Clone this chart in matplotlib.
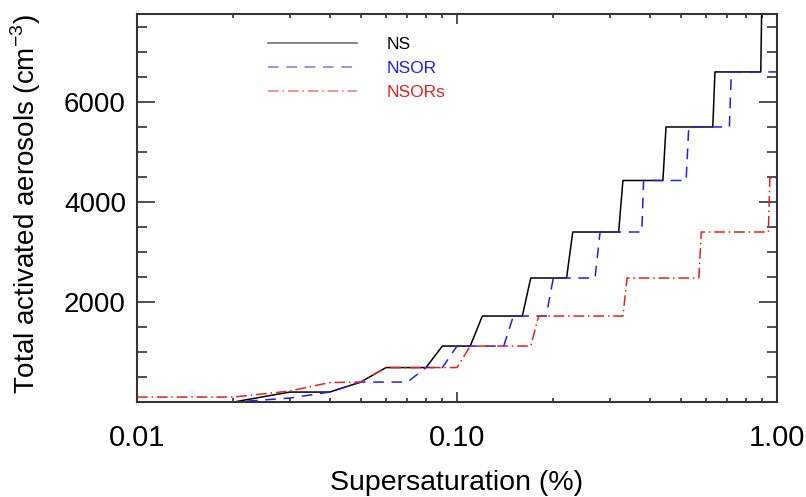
import matplotlib
matplotlib.use('Agg')
import matplotlib.pyplot as plt
from matplotlib.ticker import FixedLocator, NullFormatter, MultipleLocator

plt.rcParams['font.family'] = ['Liberation Sans', 'DejaVu Sans']
plt.rcParams['mathtext.fontset'] = 'custom'
plt.rcParams['mathtext.rm'] = 'Liberation Sans'

# supersaturation (%) at the corners of each curve
ns_x = [0.01, 0.02, 0.03, 0.04, 0.05, 0.06, 0.08, 0.09, 0.11, 0.12, 0.16, 0.17,
        0.22, 0.23, 0.32, 0.33, 0.44, 0.45, 0.63, 0.64, 0.89, 0.90, 1.00]
ns_y = [0, 0, 200, 200, 400, 690, 690, 1120, 1120, 1720, 1720, 2480,
        2480, 3400, 3400, 4430, 4430, 5500, 5500, 6600, 6600, 8800, 8800]

nsor_x = [0.01, 0.02, 0.03, 0.04, 0.05, 0.07, 0.08, 0.09, 0.10, 0.14, 0.15, 0.19,
          0.20, 0.27, 0.28, 0.378, 0.383, 0.52, 0.53, 0.71, 0.72, 1.00]
nsor_y = [0, 0, 80, 200, 400, 400, 690, 690, 1120, 1120, 1720, 1720,
          2480, 2480, 3400, 3400, 4430, 4430, 5500, 5500, 6600, 6600]

nsors_x = [0.01, 0.02, 0.03, 0.04, 0.05, 0.06, 0.10, 0.11, 0.17, 0.18, 0.33, 0.34,
           0.57, 0.58, 0.94, 0.95, 1.00]
nsors_y = [100, 100, 220, 390, 400, 690, 690, 1120, 1120, 1720, 1720, 2480,
           2480, 3400, 3400, 4480, 4480]

x_ticks = [0.01, 0.1, 1.0]
x_tick_labels = ['0.01', '0.10', '1.00']
y_ticks = [2000, 4000, 6000]

fig = plt.figure(figsize=(8.06, 4.97), dpi=100)
ax = fig.add_axes([0.170, 0.191, 0.794, 0.781])

ax.plot(ns_x, ns_y, color='black', lw=1.1, label='NS')
ax.plot(nsor_x, nsor_y, color='#2020f0', lw=1.1, dashes=(7, 5), label='NSOR')
ax.plot(nsors_x, nsors_y, color='#e82020', lw=1.1, dashes=(7, 2.5, 1, 2.5), label='NSORs')

ax.set_xscale('log')
ax.set_xlim(0.01, 1.0)
ax.set_ylim(0, 7760)

ax.xaxis.set_major_locator(FixedLocator(x_ticks))
ax.set_xticklabels(x_tick_labels)
ax.xaxis.set_minor_locator(FixedLocator([0.02, 0.03, 0.04, 0.05, 0.06, 0.07, 0.08, 0.09,
                                         0.2, 0.3, 0.4, 0.5, 0.6, 0.7, 0.8, 0.9]))
ax.xaxis.set_minor_formatter(NullFormatter())
ax.set_yticks(y_ticks)
ax.yaxis.set_minor_locator(MultipleLocator(500))

ax.tick_params(axis='both', which='both', direction='in', top=True, right=True,
               width=1.2, colors='#333333', labelcolor='black')
ax.tick_params(axis='x', which='major', length=7, pad=16, labelsize=21)
ax.tick_params(axis='x', which='minor', length=3)
ax.tick_params(axis='y', which='major', length=13, pad=8, labelsize=20)
ax.tick_params(axis='y', which='minor', length=7)

for s in ax.spines.values():
    s.set_linewidth(1.5)
    s.set_color('#333333')

ax.set_xlabel('Supersaturation (%)', fontsize=20.5)
ax.set_ylabel('Total activated aerosols (cm$^{-3}$)', fontsize=20)
ax.xaxis.set_label_coords(0.5, -0.176)
ax.yaxis.set_label_coords(-0.147, 0.51)

leg = ax.legend(loc='upper left', bbox_to_anchor=(0.205, 0.941), frameon=False,
                fontsize=12.5, handlelength=5.1, handletextpad=1.7, labelspacing=0.5,
                borderpad=0, borderaxespad=0, labelcolor='linecolor')
for h in leg.legend_handles:
    h.set_alpha(0.6)

plt.savefig('out.png', dpi=100)
